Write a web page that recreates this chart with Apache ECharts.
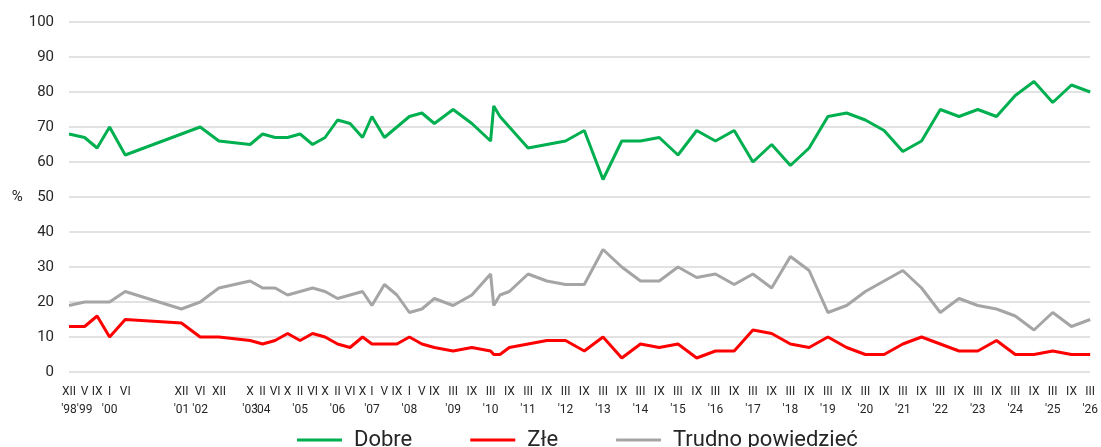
<!DOCTYPE html>
<html>
<head>
<meta charset="utf-8">
<script src="https://cdn.jsdelivr.net/npm/echarts@6/dist/echarts.min.js"></script>
<style>
  html, body { margin: 0; padding: 0; background: #fff; }
  #main { width: 1101px; height: 447px; }
</style>
</head>
<body>
<div id="main"></div>
<script>
// survey dates (YYYY-MM)
var surveyDates = [
  '1998-12','1999-05','1999-09','2000-01','2000-06','2001-12','2002-06','2002-12','2003-10','2004-02',
  '2004-06','2004-10','2005-02','2005-06','2005-10','2006-02','2006-06','2006-10','2007-01','2007-05',
  '2007-09','2008-01','2008-05','2008-09','2009-03','2009-09','2010-03','2010-04','2010-06','2010-09',
  '2011-03','2011-09','2012-03','2012-09','2013-03','2013-09','2014-03','2014-09','2015-03','2015-09',
  '2016-03','2016-09','2017-03','2017-09','2018-03','2018-09','2019-03','2019-09','2020-03','2020-09',
  '2021-03','2021-09','2022-03','2022-09','2023-03','2023-09','2024-03','2024-09','2025-03','2025-09',
  '2026-03'
];
// dates without a label on the axis
var unlabelled = ['2010-04', '2010-06'];

var dobre = [
  68,67,64,70,62,68,70,66,65,68, 67,67,68,65,67,72,71,67,73,67,
  70,73,74,71,75,71,66,76,73,70, 64,65,66,69,55,66,66,67,62,69,
  66,69,60,65,59,64,73,74,72,69, 63,66,75,73,75,73,79,83,77,82, 80
];
var zle = [
  13,13,16,10,15,14,10,10,9,8, 9,11,9,11,10,8,7,10,8,8,
  8,10,8,7,6,7,6,5,5,7, 8,9,9,6,10,4,8,7,8,4,
  6,6,12,11,8,7,10,7,5,5, 8,10,8,6,6,9,5,5,6,5, 5
];
var trudno = [
  19,20,20,20,23,18,20,24,26,24, 24,22,23,24,23,21,22,23,19,25,
  22,17,18,21,19,22,28,19,22,23, 28,26,25,25,35,30,26,26,30,27,
  28,25,28,24,33,29,17,19,23,26, 29,24,17,21,19,18,16,12,17,13, 15
];

var roman = ['I','II','III','IV','V','VI','VII','VIII','IX','X','XI','XII'];

// months counted from XII 1998
function monthIdx(d) {
  var p = d.split('-');
  return (+p[0] - 1998) * 12 + (+p[1] - 12);
}

var tickDates = surveyDates.filter(function (d) { return unlabelled.indexOf(d) < 0; });
var tickValues = tickDates.map(monthIdx);
var tickText = {};
var seenYears = {};
tickDates.forEach(function (d) {
  var y = d.slice(0, 4), m = +d.slice(5, 7);
  var txt = roman[m - 1];
  if (!seenYears[y]) { seenYears[y] = true; txt += "\n'" + y.slice(2); }
  tickText[monthIdx(d)] = txt;
});

function pairs(vals) {
  return surveyDates.map(function (d, i) { return [monthIdx(d), vals[i]]; });
}

var textColor = '#262626';
var font = 'Roboto, "Noto Sans", sans-serif';

var myChart = echarts.init(document.getElementById('main'));
var option = {
  animation: false,
  textStyle: { fontFamily: font },
  grid: { left: 69, right: 8, top: 22, bottom: 75 },
  legend: {
    left: 292,
    top: 424,
    icon: 'rect',
    itemWidth: 45,
    itemHeight: 3,
    itemGap: 58,
    textStyle: { fontSize: 22, color: textColor, fontFamily: font, padding: [0, 0, 0, 7] },
    data: ['Dobre', 'Złe', 'Trudno powiedzieć']
  },
  xAxis: {
    type: 'value',
    min: 0,
    max: monthIdx('2026-03'),
    splitLine: { show: false },
    axisLine: { show: false },
    axisTick: { show: false },
    axisLabel: {
      customValues: tickValues,
      showMinLabel: true,
      showMaxLabel: true,
      margin: 11,
      fontSize: 12,
      lineHeight: 18,
      color: textColor,
      fontFamily: font,
      formatter: function (v) { return tickText[v] || ''; }
    }
  },
  yAxis: {
    type: 'value',
    min: 0,
    max: 100,
    interval: 10,
    name: '%',
    nameLocation: 'middle',
    nameRotate: 0,
    nameGap: 45,
    nameTextStyle: { fontSize: 15, color: textColor, fontFamily: font },
    axisLine: { show: false },
    axisTick: { show: false },
    axisLabel: { fontSize: 15, color: textColor, margin: 15, fontFamily: font },
    splitLine: { lineStyle: { color: '#d9d9d9', width: 1.5 } }
  },
  series: [
    { name: 'Dobre', type: 'line', symbol: 'none', data: pairs(dobre),
      lineStyle: { width: 3, color: '#00b050' }, itemStyle: { color: '#00b050' } },
    { name: 'Złe', type: 'line', symbol: 'none', data: pairs(zle),
      lineStyle: { width: 3, color: '#ff0000' }, itemStyle: { color: '#ff0000' } },
    { name: 'Trudno powiedzieć', type: 'line', symbol: 'none', data: pairs(trudno),
      lineStyle: { width: 3, color: '#a5a5a5' }, itemStyle: { color: '#a5a5a5' } }
  ]
};
myChart.setOption(option);
</script>
</body>
</html>
